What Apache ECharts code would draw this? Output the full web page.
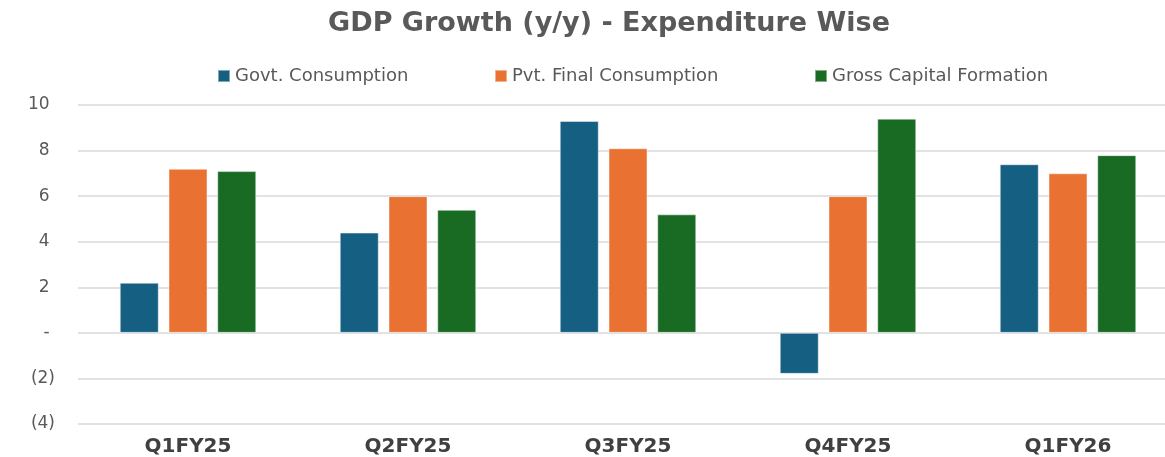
<!DOCTYPE html>
<html>
<head>
<meta charset="utf-8">
<title>GDP Growth (y/y) - Expenditure Wise</title>
<script src="https://cdn.jsdelivr.net/npm/echarts@6/dist/echarts.min.js"></script>
<style>
    html, body { margin: 0; padding: 0; background: #fff; }
    #chart { width: 1165px; height: 457px; }
</style>
</head>
<body>
<div id="chart"></div>
<script>
// 数据
var quarters = ['Q1FY25', 'Q2FY25', 'Q3FY25', 'Q4FY25', 'Q1FY26'];
var govtConsumption = [2.2, 4.4, 9.3, -1.8, 7.4];
var pvtConsumption = [7.2, 6.0, 8.1, 6.0, 7.0];
var grossCapital = [7.1, 5.4, 5.2, 9.4, 7.8];

var seriesNames = ['Govt. Consumption', 'Pvt. Final Consumption', 'Gross Capital Formation'];
var seriesColors = ['#156082', '#E97132', '#196B24'];
var legendLeft = [212, 489, 809];

var textColor = '#595959';
var fontFamily = 'DejaVu Sans, sans-serif';

function initChart() {
    var chart = echarts.init(document.getElementById('chart'));

    // 每个图例单独定位
    var legends = seriesNames.map(function(name, i) {
        return {
            data: [name],
            left: legendLeft[i],
            top: 62,
            itemWidth: 12,
            itemHeight: 12,
            itemGap: 8,
            icon: 'rect',
            textStyle: { color: textColor, fontSize: 18, fontFamily: fontFamily }
        };
    });

    var values = [govtConsumption, pvtConsumption, grossCapital];
    var series = values.map(function(arr, i) {
        return {
            name: seriesNames[i],
            type: 'bar',
            data: arr,
            barWidth: 39,
            barGap: '25%',
            itemStyle: {
                color: seriesColors[i],
                borderColor: 'rgba(255,255,255,0.45)',
                borderWidth: 1
            }
        };
    });

    var option = {
        animation: false,
        title: {
            text: 'GDP Growth (y/y) - Expenditure Wise',
            left: 604,
            textAlign: 'center',
            top: 5,
            textStyle: { color: textColor, fontSize: 27, fontWeight: 'bold', fontFamily: fontFamily }
        },
        legend: legends,
        grid: {
            left: 78, top: 105, width: 1100, height: 319,
            containLabel: false,
            outerBoundsMode: 'none'
        },
        xAxis: {
            type: 'category',
            data: quarters,
            axisLine: { show: false, onZero: false },
            axisTick: { show: false },
            axisLabel: {
                color: '#404040',
                fontSize: 20,
                fontWeight: 'bold',
                fontFamily: fontFamily,
                margin: 13
            }
        },
        yAxis: {
            type: 'value',
            min: -4,
            max: 10,
            interval: 2,
            axisLine: { show: false },
            axisTick: { show: false },
            splitLine: { lineStyle: { color: '#d9d9d9', width: 1.5 } },
            axisLabel: {
                color: textColor,
                fontSize: 17,
                fontFamily: fontFamily,
                margin: 23,
                // 会计格式：负数加括号，零显示为 "-"
                formatter: function(v) {
                    if (v === 0) return '- ';
                    if (v < 0) return '(' + (-v) + ')';
                    return v + ' ';
                }
            }
        },
        series: series
    };

    chart.setOption(option);
}

document.addEventListener('DOMContentLoaded', initChart);
</script>
</body>
</html>
